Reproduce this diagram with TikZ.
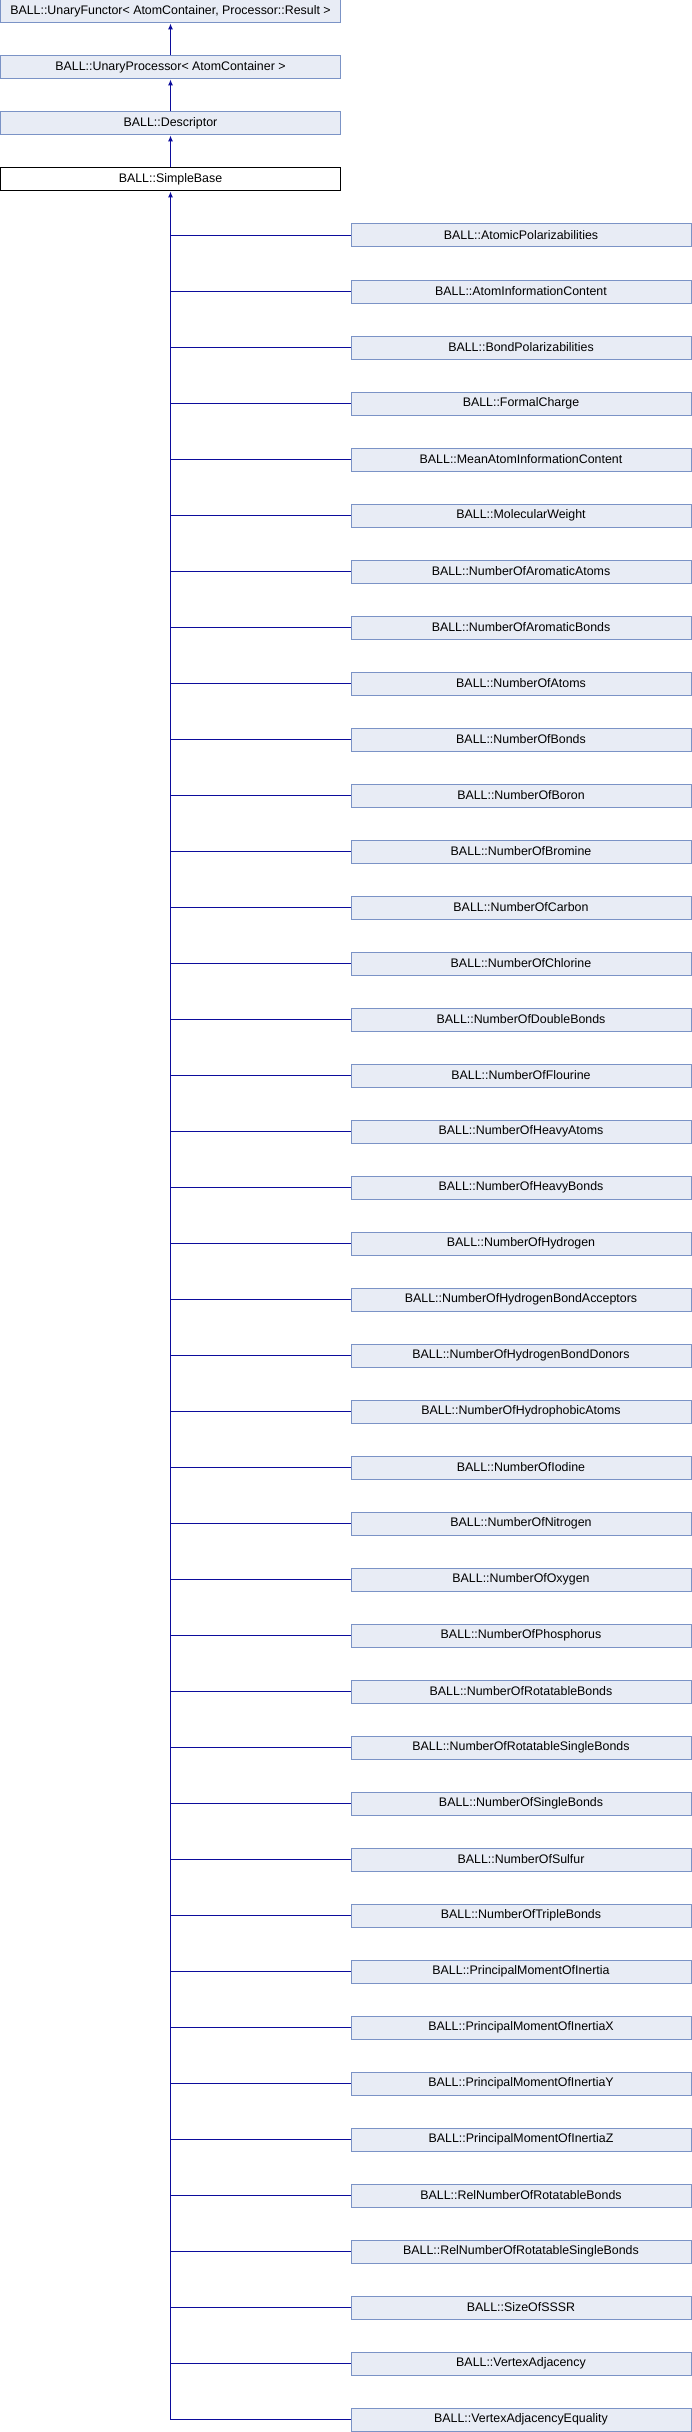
\documentclass[tikz,border=0pt]{standalone}
\usepackage{fontspec}
\setmainfont{Liberation Sans}
\usepackage{tikz}
\usetikzlibrary{arrows.meta}

\definecolor{boxfill}{HTML}{E8ECF5}
\definecolor{boxline}{HTML}{7B93C6}
\definecolor{edgeblue}{HTML}{0C0C9C}

\begin{document}
\begin{tikzpicture}[x=1pt,y=-1pt,
	klass/.style={draw=boxline, fill=boxfill, line width=1pt, minimum width=340pt, minimum height=23pt, inner sep=0pt, font=\fontsize{12.4}{14}\selectfont},
	current/.style={klass, draw=black, fill=white},
	inherit/.style={draw=edgeblue, line width=1pt, -{Latex[length=6pt,width=5pt]}},
	branch/.style={draw=edgeblue, line width=1pt}]
		\useasboundingbox (0,0) rectangle (692,2432);

		\node[klass] (functor) at (170.5,11.5) {BALL::UnaryFunctor< AtomContainer, Processor::Result >};
		\node[klass] (processor) at (170.5,67.5) {BALL::UnaryProcessor< AtomContainer >};
		\node[klass] (descriptor) at (170.5,123.5) {BALL::Descriptor};
		\node[current] (simplebase) at (170.5,179.5) {BALL::SimpleBase};

		\draw[inherit] (processor) -- (functor);
		\draw[inherit] (descriptor) -- (processor);
		\draw[inherit] (simplebase) -- (descriptor);

		% derived descriptors
		\foreach \name [count=\i] in {AtomicPolarizabilities, AtomInformationContent, BondPolarizabilities,
				FormalCharge, MeanAtomInformationContent, MolecularWeight, NumberOfAromaticAtoms,
				NumberOfAromaticBonds, NumberOfAtoms, NumberOfBonds, NumberOfBoron, NumberOfBromine,
				NumberOfCarbon, NumberOfChlorine, NumberOfDoubleBonds, NumberOfFlourine,
				NumberOfHeavyAtoms, NumberOfHeavyBonds, NumberOfHydrogen, NumberOfHydrogenBondAcceptors,
				NumberOfHydrogenBondDonors, NumberOfHydrophobicAtoms, NumberOfIodine, NumberOfNitrogen,
				NumberOfOxygen, NumberOfPhosphorus, NumberOfRotatableBonds, NumberOfRotatableSingleBonds,
				NumberOfSingleBonds, NumberOfSulfur, NumberOfTripleBonds, PrincipalMomentOfInertia,
				PrincipalMomentOfInertiaX, PrincipalMomentOfInertiaY, PrincipalMomentOfInertiaZ,
				RelNumberOfRotatableBonds, RelNumberOfRotatableSingleBonds, SizeOfSSSR,
				VertexAdjacency, VertexAdjacencyEquality}
		{
			\node[klass] (d\i) at (521,179.5+56*\i) {BALL::\name};
			\coordinate (j\i) at (d\i.west -| simplebase.south);
			\draw[branch] (d\i.west) -- (j\i);
		}

		\draw[inherit] (j40) -- (simplebase);
\end{tikzpicture}
\end{document}
